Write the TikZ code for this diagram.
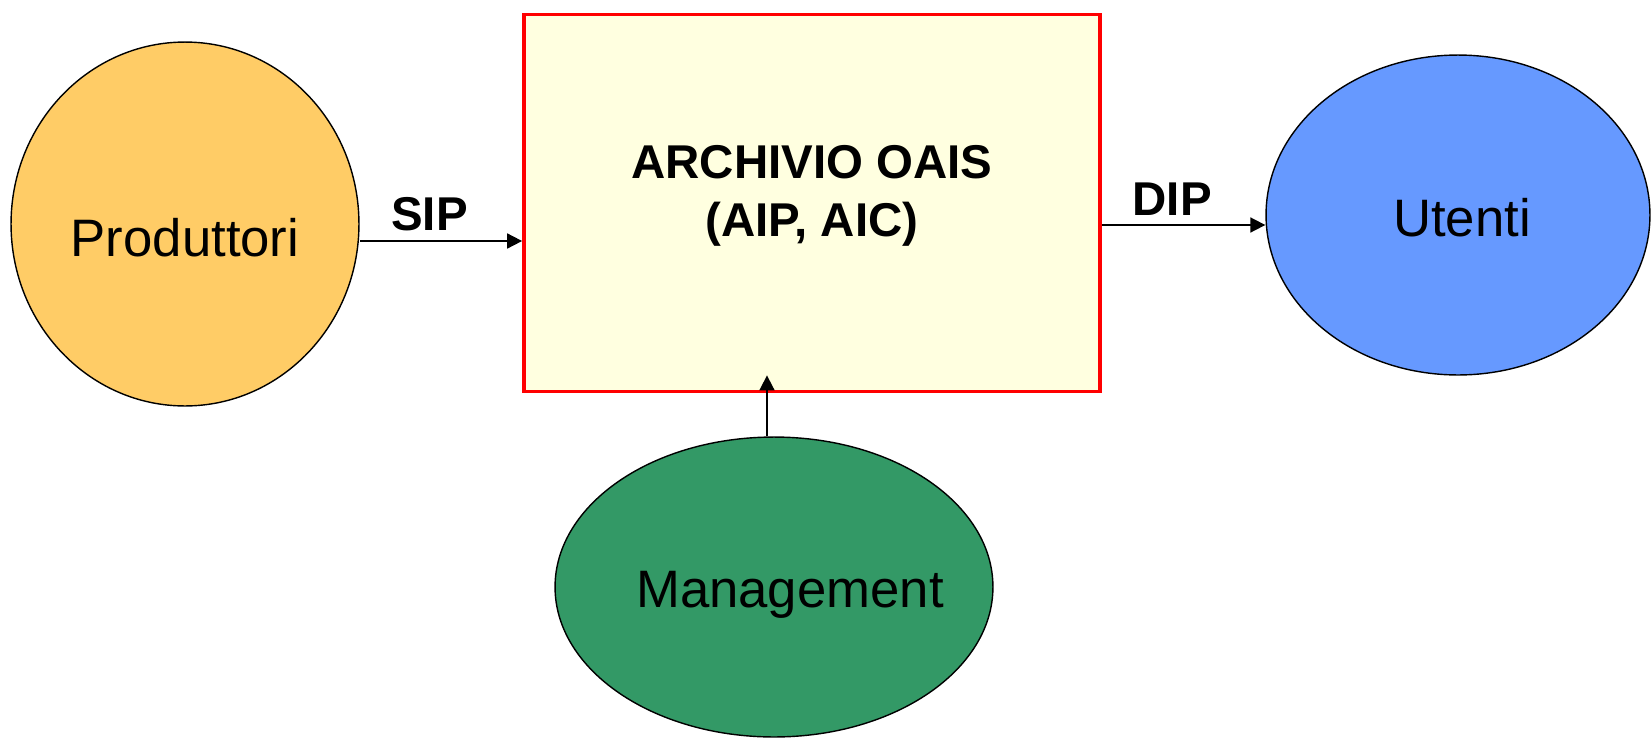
\documentclass[tikz,border=0pt]{standalone}
\usepackage{fontspec}
\setmainfont{Liberation Sans}
\usetikzlibrary{shapes.geometric,arrows.meta}
\definecolor{prodorange}{HTML}{FFCC66}
\definecolor{archyellow}{HTML}{FFFFE0}
\definecolor{userblue}{HTML}{6699FF}
\definecolor{mgmtgreen}{HTML}{339966}
\definecolor{archred}{HTML}{FF0000}
\tikzset{
  actor/.style={ellipse,draw=black,line width=0.8pt,inner sep=0pt},
  actortext/.style={font=\fontsize{30}{36}\selectfont},
  archbox/.style={rectangle,draw=archred,line width=2.2pt,fill=archyellow,
    inner sep=0pt,align=center,font=\fontsize{27}{33}\selectfont\bfseries},
  flow/.style={-{Triangle[length=0.3cm,width=0.3cm]},line width=1pt},
  flowlabel/.style={font=\fontsize{27}{33}\selectfont\bfseries,inner sep=0.18cm}
}

\begin{document}
\begin{tikzpicture}[x=0.02cm,y=-0.02cm]
  \useasboundingbox (0,0) rectangle (1651,738);
  % archive and the three actors
  \node[archbox,minimum width=11.52cm,minimum height=7.54cm,text depth=0.5cm] (arch) at (812,203)
    {ARCHIVIO OAIS\\(AIP, AIC)};
  \node[actor,fill=prodorange,minimum width=6.96cm,minimum height=7.28cm,
    label={[actortext,yshift=-0.28cm]center:Produttori}] (prod) at (185,224) {};
  \node[actor,fill=userblue,minimum width=7.68cm,minimum height=6.4cm,
    label={[actortext,xshift=0.08cm,yshift=-0.06cm]center:Utenti}] (user) at (1458,215) {};
  \node[actor,fill=mgmtgreen,minimum width=8.76cm,minimum height=6cm,
    label={[actortext,xshift=0.32cm,yshift=-0.16cm]center:Management}] (mgmt) at (774,587) {};
  % flows
  \draw[flow] ([yshift=-0.34cm]prod.east) -- ([yshift=-0.34cm]prod.east -| arch.west)
    node[flowlabel,above,pos=0.43] (sip) {SIP};
  \draw[flow] ([yshift=-0.44cm]arch.east) -- ([yshift=-0.44cm]arch.east -| user.west)
    node[flowlabel,above,pos=0.43] (dip) {DIP};
  \draw[flow] ([xshift=-0.14cm]mgmt.north) -- ([xshift=-0.14cm,yshift=0.36cm]mgmt.north |- arch.south);
\end{tikzpicture}
\end{document}
